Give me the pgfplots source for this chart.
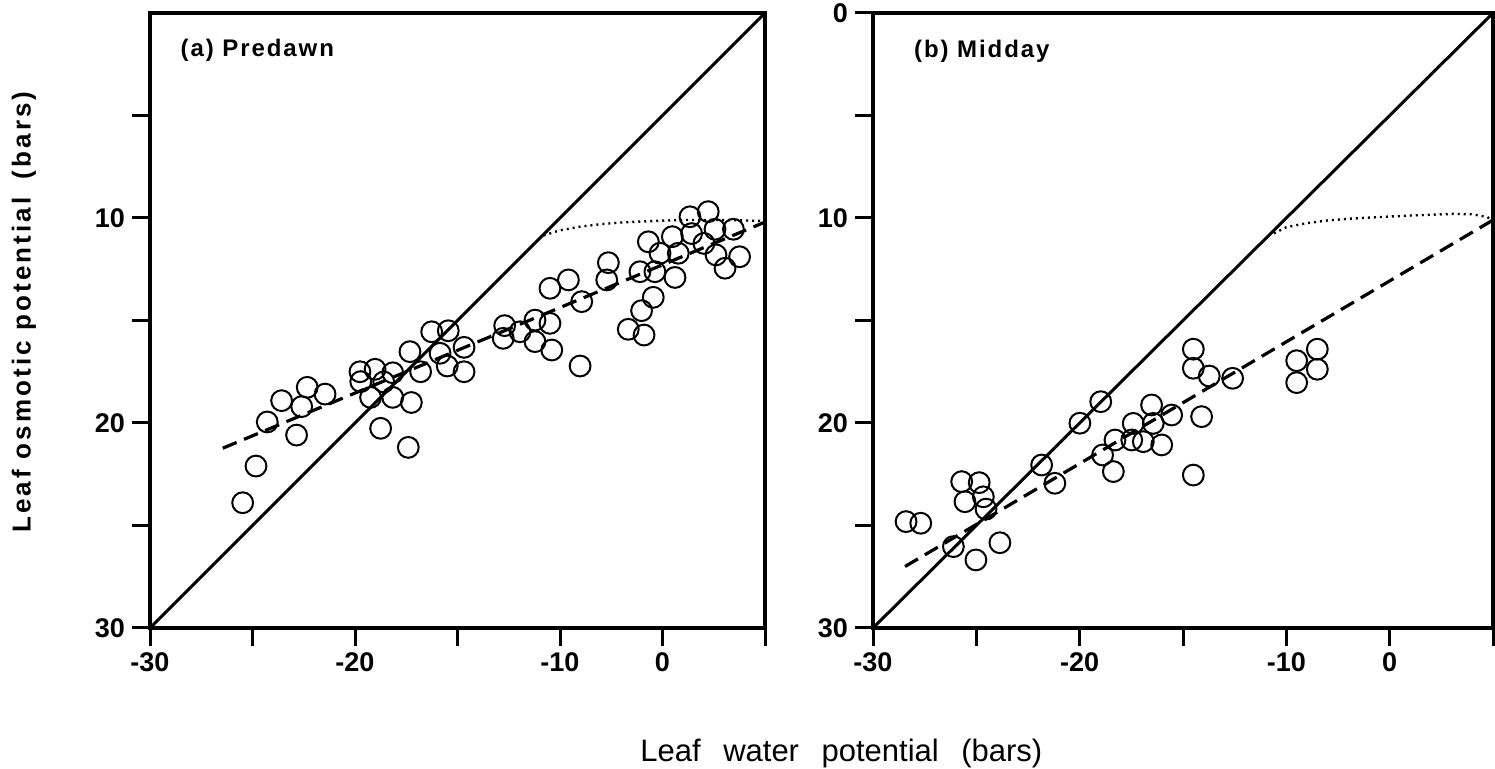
\documentclass[border=0pt]{standalone}
\usepackage{fontspec}
\setmainfont{Liberation Sans}
\newfontfamily\spacedfont[LetterSpace=12]{Liberation Sans}
\newfontfamily\titlefont[LetterSpace=8]{Liberation Sans}
\usepackage{pgfplots}
\pgfplotsset{compat=1.18}
\pgfplotsset{
  panel/.style={
    scale only axis,
    height=307.5pt,
    xmin=-30, xmax=0, ymin=0, ymax=30,
    y dir=reverse,
    axis line style={line width=1.6pt},
    xtick={-30,-25,-20,-15,-10,-5,0},
    xticklabels={-30,,-20,,-10,0,},
    tick align=outside,
    major tick length=9pt,
    xtick pos=bottom, ytick pos=left,
    tick style={line width=1.5pt, black},
    tick label style={font=\bfseries\fontsize{13.5}{14}\selectfont},
    clip=false,
  },
  dot/.style={only marks, mark=o, mark size=5.2pt, mark options={line width=1pt}, black},
  diag/.style={black, line width=1.5pt, no marks},
  regr/.style={black, line width=1.6pt, dash pattern=on 7.5pt off 4pt, no marks},
  theo/.style={black, line width=1.2pt, dash pattern=on 1pt off 2pt, no marks},
}
\begin{document}
\begin{tikzpicture}
\path[use as bounding box] (0,0) rectangle (747.5pt,384.5pt);
% ---------- (a) Predawn ----------
\begin{axis}[panel, at={(75pt,70.5pt)}, anchor=south west, width=307.5pt,
  ytick={5,10,...,30}, yticklabels={,10,,20,,30}]
\addplot[diag] coordinates {(-30,30) (0,0)};
\addplot[regr] coordinates {(-26.45,21.23) (0,10.2)};
\addplot[theo] coordinates {(-10.8,10.85) (-10,10.6) (-9,10.42) (-8,10.3) (-7,10.22) (-6,10.17) (-5,10.13) (-4,10.1) (-3,10.1) (-2,10.1) (-1,10.12) (0,10.15)};
\addplot[dot] coordinates {
(-25.48,23.89) (-24.83,22.1) (-24.28,19.95) (-23.58,18.91) (-22.85,20.59)
(-22.6,19.2) (-22.33,18.26) (-21.46,18.59) (-19.76,17.5) (-19.72,17.98)
(-19.02,17.38) (-18.16,17.55) (-19.24,18.75) (-18.16,18.75) (-17.25,19.0)
(-18.75,20.26) (-17.4,21.19) (-18.6,18.0) (-17.32,16.52) (-16.8,17.5)
(-16.26,15.55) (-15.45,15.5) (-15.85,16.6) (-15.5,17.22) (-14.68,16.31)
(-14.68,17.5) (-12.77,15.87) (-12.7,15.25) (-11.95,15.55) (-11.22,14.98)
(-11.22,16.03) (-10.49,15.14) (-10.4,16.44) (-10.49,13.43) (-9.59,13.02)
(-8.94,14.08) (-9.02,17.22) (-7.64,12.18) (-7.72,13.02) (-6.67,15.43)
(-6.02,14.52) (-5.45,13.87) (-5.9,15.71) (-6.1,12.62) (-5.37,12.62)
(-4.39,12.9) (-5.69,11.16) (-5.12,11.72) (-4.52,10.91) (-4.23,11.72)
(-3.66,9.94) (-3.58,10.76) (-2.77,9.69) (-2.44,10.55) (-2.98,11.24)
(-2.39,11.8) (-1.95,12.45) (-1.54,10.55) (-1.24,11.89)
};
\node[anchor=west, font=\titlefont\bfseries\fontsize{12}{13}\selectfont] at (axis cs:-28.85,1.8) {(a) Predawn};
\end{axis}
% ---------- (b) Midday ----------
\begin{axis}[panel, at={(436.5pt,70.5pt)}, anchor=south west, width=310pt,
  ytick={0,5,...,30}, yticklabels={0,,10,,20,,30}]
\addplot[diag] coordinates {(-30,30) (0,0)};
\addplot[regr] coordinates {(-28.45,27.0) (0,10.1)};
\addplot[theo] coordinates {(-10.6,10.75) (-10,10.45) (-9,10.25) (-8,10.12) (-7,10.04) (-6,9.98) (-5,9.93) (-4,9.88) (-3,9.84) (-2,9.8) (-1,9.82) (-0.3,9.95) (0,10.1)};
\addplot[dot] coordinates {
(-28.4,24.81) (-27.69,24.89) (-25.71,22.86) (-24.86,22.91) (-25.55,23.84)
(-24.66,23.6) (-24.53,24.2) (-26.11,26.03) (-25.02,26.68) (-23.86,25.84)
(-21.84,22.05) (-21.2,22.94) (-19.99,20.01) (-18.98,18.96) (-18.89,21.56)
(-18.29,20.83) (-18.37,22.37) (-16.52,19.12) (-15.55,19.61) (-17.41,20.02)
(-16.44,20.02) (-17.48,20.83) (-16.92,20.91) (-16.03,21.07) (-14.5,16.4)
(-14.5,17.33) (-13.73,17.71) (-12.6,17.82) (-14.1,19.69) (-14.5,22.54)
(-9.5,16.96) (-8.5,16.4) (-8.5,17.38) (-9.5,18.03)
};
\node[anchor=west, font=\titlefont\bfseries\fontsize{12}{13}\selectfont] at (axis cs:-28.35,1.85) {(b) Midday};
\end{axis}
% ---------- shared labels ----------
\node[rotate=90, font=\spacedfont\bfseries\fontsize{13}{13}\selectfont] at (12pt,228.5pt) {Leaf osmotic potential\hspace{0.3em} (bars)};
\node[anchor=base west, inner sep=0pt, font=\fontsize{15.5}{16}\selectfont] at (320pt,3.5pt) {Leaf\hspace{0.45em} water\hspace{0.45em} potential\hspace{0.45em} (bars)};
\end{tikzpicture}
\end{document}
